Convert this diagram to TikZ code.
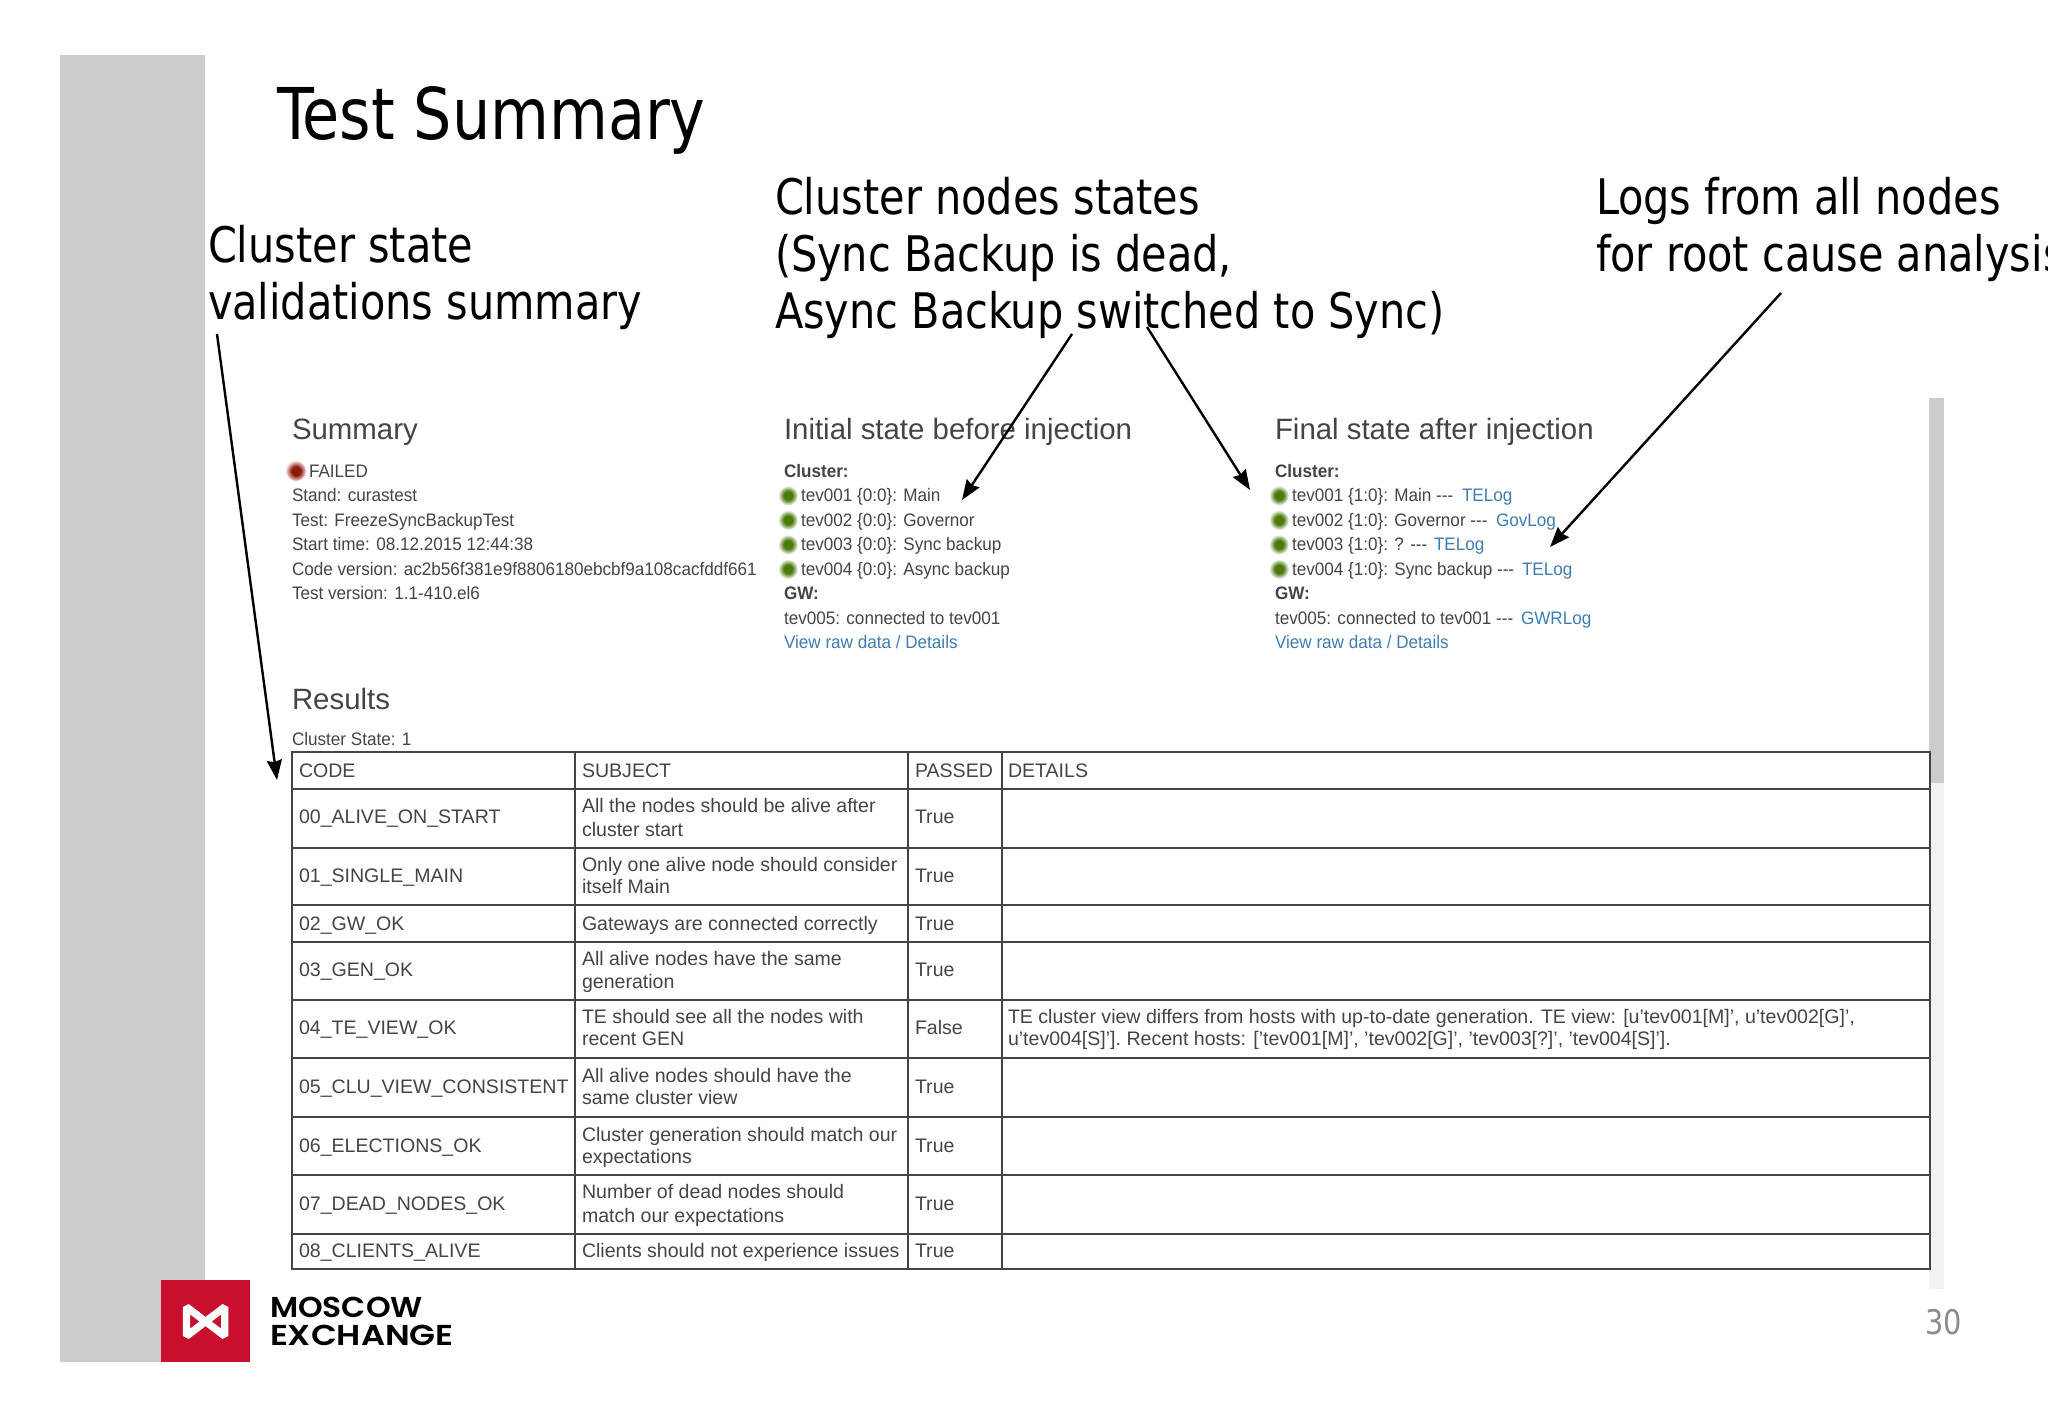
\documentclass[tikz,border=0pt]{standalone}
\usepackage{fontspec}
\usetikzlibrary{arrows.meta}
\setmainfont{Liberation Sans}
\newfontfamily\webfont[FakeStretch=0.945]{Liberation Sans}
\newfontfamily\slidefont[FakeStretch=0.94]{DejaVu Sans Condensed}
\newfontfamily\logofonta[FakeStretch=1.09]{Poppins SemiBold}
\newfontfamily\logofontb[FakeStretch=1.17]{Poppins SemiBold}
\definecolor{bandgrey}{HTML}{CCCCCC}
\definecolor{webtext}{HTML}{444444}
\definecolor{weblink}{HTML}{3E7CB1}
\definecolor{rulecol}{HTML}{444444}
\definecolor{mexred}{HTML}{C8102E}
\definecolor{okgreen}{HTML}{4C7A0C}
\definecolor{badred}{HTML}{8A1A0A}
\definecolor{badhalo}{HTML}{F8DADA}
\definecolor{pagegrey}{HTML}{8C8C8C}
\pgfdeclareradialshading{gdotshade}{\pgfpointorigin}{color(0bp)=(okgreen); color(11bp)=(okgreen); color(25bp)=(white); color(50bp)=(white)}
\pgfdeclareradialshading{rdotshade}{\pgfpointorigin}{color(0bp)=(badred); color(11bp)=(badred); color(25bp)=(badhalo); color(50bp)=(white)}
\tikzset{
  txt/.style={anchor=base west,inner sep=0pt,outer sep=0pt},
  web/.style={txt,text=webtext,font=\webfont\fontsize{9.05}{10}\selectfont},
  webb/.style={web,font=\webfont\fontsize{9.05}{10}\selectfont\bfseries},
  lnk/.style={web,text=weblink},
  cell/.style={txt,text=webtext,font=\fontsize{9.78}{10}\selectfont},
  head/.style={txt,text=webtext,font=\fontsize{14.7}{16}\selectfont},
  note/.style={txt,text=black,font=\slidefont\fontsize{24.5}{26}\selectfont},
  arr/.style={draw=black,line width=1.2pt,-{Stealth[length=10pt,width=7.5pt,inset=1pt]}},
  grid/.style={draw=rulecol,line width=.7pt},
  gdot/.style={circle,shading=gdotshade,minimum size=10pt,inner sep=0pt},
  rdot/.style={circle,shading=rdotshade,minimum size=10pt,inner sep=0pt}
}
\begin{document}
\begin{tikzpicture}[x=0.5pt,y=-0.5pt]
\useasboundingbox (0,0) rectangle (2048,1418);
\clip (0,0) rectangle (2048,1418);
% grey band, scrollbar
\fill[bandgrey] (60,55) rectangle (205,1362);
\fill[black!5] (1929,783) rectangle (1944,1289);
\fill[bandgrey] (1929,398) rectangle (1944,783);
% title
\node[txt,font=\slidefont\fontsize{35.7}{36}\selectfont] (title) at (277,140) {Test Summary};
% annotations
\node[note] (n1a) at (208,262) {Cluster state};
\node[note] (n1b) at (208,319) {validations summary};
\node[note] (n2a) at (775,214) {Cluster nodes states};
\node[note] (n2b) at (775,271) {(Sync Backup is dead,};
\node[note] (n2c) at (775,328) {Async Backup switched to Sync)};
\node[note] (n3a) at (1596,214) {Logs from all nodes};
\node[note] (n3b) at (1596,271) {for root cause analysis};
% summary column
\node[head] (hsum) at (292,439) {Summary};
\node[rdot] (dfail) at (296,471) {};
\node[web] (s0) at (309,477) {FAILED};
\node[web] (s1) at (292,501.5) {Stand: curastest};
\node[web] (s2) at (292,526) {Test: FreezeSyncBackupTest};
\node[web] (s3) at (292,550.5) {Start time: 08.12.2015 12:44:38};
\node[web] (s4) at (292,575) {Code version: ac2b56f381e9f8806180ebcbf9a108cacfddf661};
\node[web] (s5) at (292,599.5) {Test version: 1.1-410.el6};
% initial state column
\node[head] (hini) at (784,439) {Initial state before injection};
\node[webb] (i0) at (784,477) {Cluster:};
\node[gdot] (di1) at (788,495.5) {};
\node[gdot] (di2) at (788,520) {};
\node[gdot] (di3) at (788,544.5) {};
\node[gdot] (di4) at (788,569) {};
\node[web] (i1) at (801,501.5) {tev001 \{0:0\}: Main};
\node[web] (i2) at (801,526) {tev002 \{0:0\}: Governor};
\node[web] (i3) at (801,550.5) {tev003 \{0:0\}: Sync backup};
\node[web] (i4) at (801,575) {tev004 \{0:0\}: Async backup};
\node[webb] (i5) at (784,599.5) {GW:};
\node[web] (i6) at (784,624) {tev005: connected to tev001};
\node[lnk] (i7) at (784,648.5) {View raw data / Details};
% final state column
\node[head] (hfin) at (1275,439) {Final state after injection};
\node[webb] (f0) at (1275,477) {Cluster:};
\node[gdot] (df1) at (1279,495.5) {};
\node[gdot] (df2) at (1279,520) {};
\node[gdot] (df3) at (1279,544.5) {};
\node[gdot] (df4) at (1279,569) {};
\node[web] (f1) at (1292,501.5) {tev001 \{1:0\}: Main -{}-{}-};
\node[lnk] (l1) at (1462,501.5) {TELog};
\node[web] (f2) at (1292,526) {tev002 \{1:0\}: Governor -{}-{}-};
\node[lnk] (l2) at (1496,526) {GovLog};
\node[web] (f3) at (1292,550.5) {tev003 \{1:0\}: ? -{}-{}-};
\node[lnk] (l3) at (1434,550.5) {TELog};
\node[web] (f4) at (1292,575) {tev004 \{1:0\}: Sync backup -{}-{}-};
\node[lnk] (l4) at (1522,575) {TELog};
\node[webb] (f5) at (1275,599.5) {GW:};
\node[web] (f6) at (1275,624) {tev005: connected to tev001 -{}-{}-};
\node[lnk] (l5) at (1521,624) {GWRLog};
\node[lnk] (f7) at (1275,648.5) {View raw data / Details};
% results
\node[head] (hres) at (292,709) {Results};
\node[web] (cs) at (292,745) {Cluster State: 1};
% table grid
\draw[grid] (292,752) rectangle (1930,1269);
\foreach \yy in {789,848,905,942,1000,1058,1117,1175,1234} \draw[grid] (292,\yy) -- (1930,\yy);
\foreach \xx in {575,908,1002} \draw[grid] (\xx,752) -- (\xx,1269);
% table header
\node[cell] (tc) at (299,777) {CODE};
\node[cell] (ts) at (582,777) {SUBJECT};
\node[cell] (tp) at (915,777) {PASSED};
\node[cell] (td) at (1008,777) {DETAILS};
% rows
\node[cell] (c0) at (299,823) {00\_ALIVE\_ON\_START};
\node[cell] (s0a) at (582,812) {All the nodes should be alive after};
\node[cell] (s0b) at (582,836) {cluster start};
\node[cell] (p0) at (915,823) {True};
\node[cell] (c1) at (299,882) {01\_SINGLE\_MAIN};
\node[cell] (s1a) at (582,871) {Only one alive node should consider};
\node[cell] (s1b) at (582,893) {itself Main};
\node[cell] (p1) at (915,882) {True};
\node[cell] (c2) at (299,930) {02\_GW\_OK};
\node[cell] (s2a) at (582,930) {Gateways are connected correctly};
\node[cell] (p2) at (915,930) {True};
\node[cell] (c3) at (299,976) {03\_GEN\_OK};
\node[cell] (s3a) at (582,965) {All alive nodes have the same};
\node[cell] (s3b) at (582,988) {generation};
\node[cell] (p3) at (915,976) {True};
\node[cell] (c4) at (299,1034) {04\_TE\_VIEW\_OK};
\node[cell] (s4a) at (582,1023) {TE should see all the nodes with};
\node[cell] (s4b) at (582,1045) {recent GEN};
\node[cell] (p4) at (915,1034) {False};
\node[cell] (d4a) at (1008,1023) {TE cluster view differs from hosts with up-to-date generation. TE view: [u'tev001[M]', u'tev002[G]',};
\node[cell] (d4b) at (1008,1045) {u'tev004[S]']. Recent hosts: ['tev001[M]', 'tev002[G]', 'tev003[?]', 'tev004[S]'].};
\node[cell] (c5) at (299,1093) {05\_CLU\_VIEW\_CONSISTENT};
\node[cell] (s5a) at (582,1082) {All alive nodes should have the};
\node[cell] (s5b) at (582,1104) {same cluster view};
\node[cell] (p5) at (915,1093) {True};
\node[cell] (c6) at (299,1152) {06\_ELECTIONS\_OK};
\node[cell] (s6a) at (582,1141) {Cluster generation should match our};
\node[cell] (s6b) at (582,1163) {expectations};
\node[cell] (p6) at (915,1152) {True};
\node[cell] (c7) at (299,1210) {07\_DEAD\_NODES\_OK};
\node[cell] (s7a) at (582,1198) {Number of dead nodes should};
\node[cell] (s7b) at (582,1222) {match our expectations};
\node[cell] (p7) at (915,1210) {True};
\node[cell] (c8) at (299,1257) {08\_CLIENTS\_ALIVE};
\node[cell] (s8a) at (582,1257) {Clients should not experience issues};
\node[cell] (p8) at (915,1257) {True};
% arrows
\coordinate (a1s) at (217,334); \coordinate (a1e) at (277,780);
\coordinate (a2s) at (1072,334); \coordinate (a2e) at (962,500);
\coordinate (a3s) at (1147,327); \coordinate (a3e) at (1250,490);
\coordinate (a4s) at (1781,293); \coordinate (a4e) at (1550,547);
\draw[arr] (a1s) -- (a1e);
\draw[arr] (a2s) -- (a2e);
\draw[arr] (a3s) -- (a3e);
\draw[arr] (a4s) -- (a4e);
% logo
\fill[mexred] (161,1280) rectangle (250,1362);
\draw[white,line width=3.7pt,line join=bevel] (186.5,1336) -- (186.5,1307) -- (224.7,1336) -- (224.7,1307) -- cycle;
\node[txt,font=\logofonta\fontsize{14.4}{15}\selectfont] (mx1) at (270,1317) {MOSCOW};
\node[txt,font=\logofontb\fontsize{14.4}{15}\selectfont] (mx2) at (270,1345) {EXCHANGE};
% page number
\node[txt,text=pagegrey,font=\slidefont\fontsize{17}{18}\selectfont] (pg) at (1925,1334) {30};
\end{tikzpicture}
\end{document}
